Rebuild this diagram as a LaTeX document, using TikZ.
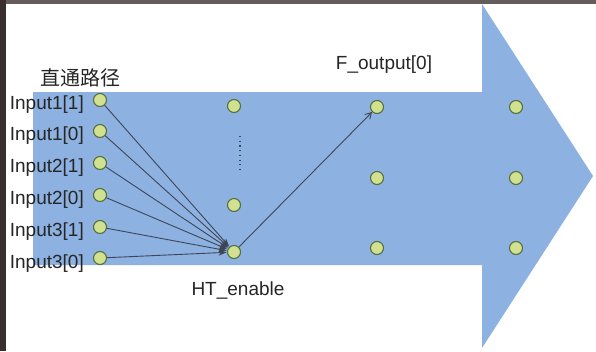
\documentclass[tikz,border=0pt]{standalone}
\usepackage{fontspec}
\setmainfont{Liberation Sans}
\newfontfamily\cjk{Noto Sans CJK SC}
\usetikzlibrary{arrows.meta}
\definecolor{flowblue}{HTML}{8DB1E0}
\definecolor{dotfill}{HTML}{D2E190}
\definecolor{dotline}{HTML}{55703E}
\definecolor{wire}{HTML}{3E4656}
\definecolor{frameleft}{HTML}{3A2F2F}
\definecolor{frametop}{HTML}{655D5B}
\tikzset{
  pin/.style={circle, draw=dotline, fill=dotfill, line width=1.1pt, minimum size=13pt, inner sep=0pt},
  lbl/.style={font=\fontsize{19}{22}\selectfont, text=black!85, inner sep=0pt},
  wirearrow/.style={draw=wire, line width=0.9pt, -{Stealth[length=8pt,width=6pt]}, shorten >=0.5pt},
}
\begin{document}
\begin{tikzpicture}[x=1pt, y=-1pt]
  % canvas and frame strips
  \fill[white] (0,0) rectangle (596,351);
  \useasboundingbox (0,0) rectangle (596,351);
  \fill[frametop] (0,0) rectangle (596,4);
  \fill[frameleft] (0,0) rectangle (6,351);

  % the big flow arrow
  \fill[flowblue] (33,92) -- (482,92) -- (482,4) -- (593,176) -- (482,348) -- (482,265) -- (33,265) -- cycle;

  % input pins
  \node[pin] (i11) at (100,100) {};
  \node[pin] (i10) at (100,131) {};
  \node[pin] (i21) at (100,163) {};
  \node[pin] (i20) at (100,195) {};
  \node[pin] (i31) at (100,227) {};
  \node[pin] (i30) at (100,258) {};

  \node[lbl, anchor=east] (l11) at (84,105) {Input1[1]};
  \node[lbl, anchor=east] (l10) at (84,136) {Input1[0]};
  \node[lbl, anchor=east] (l21) at (84,168) {Input2[1]};
  \node[lbl, anchor=east] (l20) at (84,200) {Input2[0]};
  \node[lbl, anchor=east] (l31) at (84,232) {Input3[1]};
  \node[lbl, anchor=east] (l30) at (84,264) {Input3[0]};

  \node[font=\cjk\fontsize{20}{24}\selectfont, text=black!85, inner sep=0pt] (title) at (80,78) {直通路径};

  % second column
  \node[pin] (c2a) at (234,106) {};
  \node[pin] (c2b) at (234,205) {};
  \node[pin] (ht) at (234,252) {};
  \draw[wire, line width=1.2pt, dash pattern=on 1.2pt off 3.5pt] (240,136) -- (240,172);
  \node[lbl] (htl) at (238,290) {HT\_enable};

  % third column
  \node[pin] (fo) at (377,107) {};
  \node[pin] (c3b) at (377,178) {};
  \node[pin] (c3c) at (377,248) {};
  \node[lbl] (fol) at (384,65) {F\_output[0]};

  % fourth column
  \node[pin] (c4a) at (516,107) {};
  \node[pin] (c4b) at (516,178) {};
  \node[pin] (c4c) at (516,248) {};

  % connections
  \foreach \s in {i11,i10,i21,i20,i31,i30}
    \draw[wirearrow] (\s) -- (ht);
  \draw[draw=wire, line width=0.9pt, -{Straight Barb[length=6pt,width=7pt]}] (ht) -- (fo);
\end{tikzpicture}
\end{document}
